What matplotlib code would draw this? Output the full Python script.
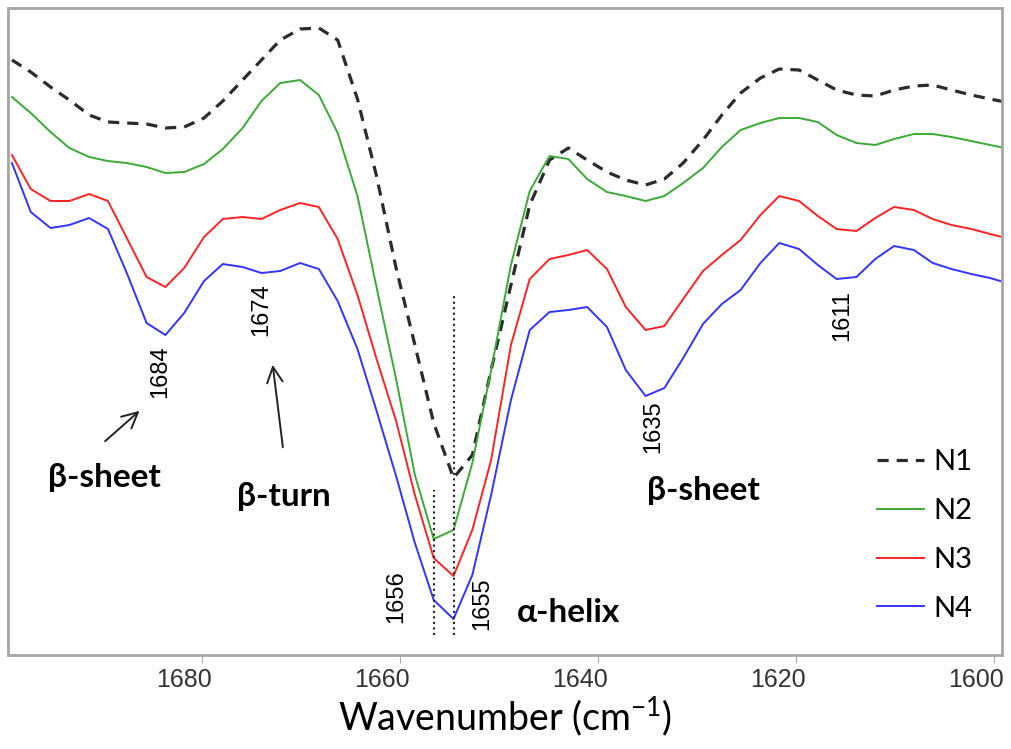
import matplotlib
matplotlib.use("Agg")
from matplotlib import pyplot as plt
from matplotlib.transforms import ScaledTranslation

# wavenumbers (cm-1) of the data points
wavenumber = [1699.2, 1697.3, 1695.3, 1693.4, 1691.4, 1689.5, 1687.6, 1685.6, 1683.7, 1681.8,
              1679.8, 1677.9, 1675.9, 1674.0, 1672.1, 1670.1, 1668.2, 1666.3, 1664.3, 1662.4,
              1660.4, 1658.5, 1656.6, 1654.6, 1652.7, 1650.8, 1648.8, 1646.9, 1644.9, 1643.0,
              1641.1, 1639.1, 1637.2, 1635.2, 1633.3, 1631.4, 1629.4, 1627.5, 1625.6, 1623.6,
              1621.7, 1619.7, 1617.8, 1615.9, 1613.9, 1612.0, 1610.1, 1608.1, 1606.2, 1604.3,
              1602.3, 1600.4, 1598.4]

# second derivative spectra, arbitrary units (offset for display)
n1 = [595, 583, 568, 555, 540, 533, 532, 531, 527, 528, 537, 554, 575, 595, 615, 626, 627, 615,
      556, 480, 387, 310, 232, 177, 200, 285, 370, 450, 495, 507, 495, 483, 475, 470, 476, 492,
      515, 540, 562, 577, 586, 585, 575, 565, 560, 559, 565, 569, 570, 565, 560, 556, 552]
n2 = [558, 542, 523, 507, 498, 494, 492, 488, 482, 483, 491, 506, 527, 554, 572, 575, 560, 522,
      459, 369, 276, 180, 116, 125, 192, 285, 390, 464, 499, 496, 476, 463, 459, 454, 459, 472,
      487, 508, 525, 532, 537, 537, 533, 520, 512, 510, 516, 521, 521, 518, 514, 510, 506]
n3 = [500, 466, 454, 454, 461, 454, 417, 378, 368, 387, 418, 436, 438, 436, 445, 452, 448, 416,
      360, 297, 234, 160, 97, 79, 125, 195, 310, 376, 396, 400, 405, 386, 348, 325, 329, 356,
      384, 400, 415, 440, 459, 454, 439, 426, 424, 437, 448, 445, 436, 430, 426, 421, 416]
n4 = [492, 443, 427, 430, 437, 426, 382, 332, 320, 342, 374, 391, 388, 382, 384, 392, 386, 354,
      306, 245, 179, 112, 55, 36, 80, 160, 255, 325, 343, 345, 348, 328, 285, 259, 267, 297,
      331, 351, 365, 392, 412, 406, 390, 376, 378, 396, 409, 405, 392, 386, 381, 377, 371]

series_names = ["N1", "N2", "N3", "N4"]
xticks = [1680, 1660, 1640, 1620, 1600]

# band positions marked on the chart: (label, x, y)
band_labels = [("1684", 1684.2, 283), ("1674", 1674.0, 345), ("1656", 1660.4, 58),
               ("1655", 1651.7, 51), ("1635", 1634.4, 228), ("1611", 1615.3, 339)]
structure_labels = [("β-sheet", 1689.9, 178), ("β-turn", 1671.7, 159),
                    ("β-sheet", 1629.4, 165), ("α-helix", 1643.0, 43)]

plt.rcParams['mathtext.fontset'] = 'custom'
plt.rcParams['mathtext.rm'] = 'Lato'

fig = plt.figure(figsize=(10.11, 7.49), dpi=100)
ax = fig.add_axes([0.0079, 0.1255, 0.9832, 0.8638])

ax.plot(wavenumber, n1, color='#2b2b2b', lw=2.3, linestyle=(0, (3.5, 2.5)), label=series_names[0])
ax.plot(wavenumber, n2, color='#3aaa35', lw=1.4, label=series_names[1])
ax.plot(wavenumber, n3, color='#ff2222', lw=1.4, label=series_names[2])
ax.plot(wavenumber, n4, color='#3333ff', lw=1.4, label=series_names[3])

# dotted markers at the alpha-helix minima
ax.plot([wavenumber[22], wavenumber[22]], [20, 165], color='#222222', lw=1.5, linestyle=':')
ax.plot([wavenumber[23], wavenumber[23]], [20, 359], color='#222222', lw=1.5, linestyle=':')

arial = ['Liberation Sans', 'DejaVu Sans']
for text, x, y in band_labels:
    ax.text(x, y, text, rotation=90, ha='center', va='center', fontsize=17, family=arial)
for text, x, y in structure_labels:
    ax.text(x, y, text, ha='center', va='center', fontsize=24, fontweight='bold',
            family=['Lato', 'DejaVu Sans'])

ax.annotate('', xy=(1686.1, 246), xytext=(1690.0, 212),
            arrowprops=dict(arrowstyle='->', color='#222222', lw=1.4, mutation_scale=28))
ax.annotate('', xy=(1672.9, 293), xytext=(1671.8, 205),
            arrowprops=dict(arrowstyle='->', color='#222222', lw=1.4, mutation_scale=28))

ax.set_xlim(1699.6, 1599.2)
ax.set_ylim(0, 647)
ax.set_xticks(xticks)
ax.set_xticklabels([str(t) for t in xticks], family=arial, fontsize=18, color='#333333')
ax.set_yticks([])
ax.tick_params(axis='x', direction='out', length=6, color='#a6a6a6', pad=3)
# labels sit a little left of their tick marks, as in the original
shift = ScaledTranslation(-0.18, 0, fig.dpi_scale_trans)
for lab in ax.get_xticklabels():
    lab.set_transform(lab.get_transform() + shift)
for side in ax.spines.values():
    side.set_color('#a6a6a6')
    side.set_linewidth(2)

ax.set_xlabel('Wavenumber (cm$^{-1}$)', fontsize=27, family='Lato', labelpad=2)

leg = ax.legend(loc='lower right', bbox_to_anchor=(0.997, 0.011), frameon=False,
                handlelength=1.6, handletextpad=0.35, labelspacing=0.78,
                prop={'family': 'Lato', 'size': 21})

fig.savefig('out.png', dpi=100)
